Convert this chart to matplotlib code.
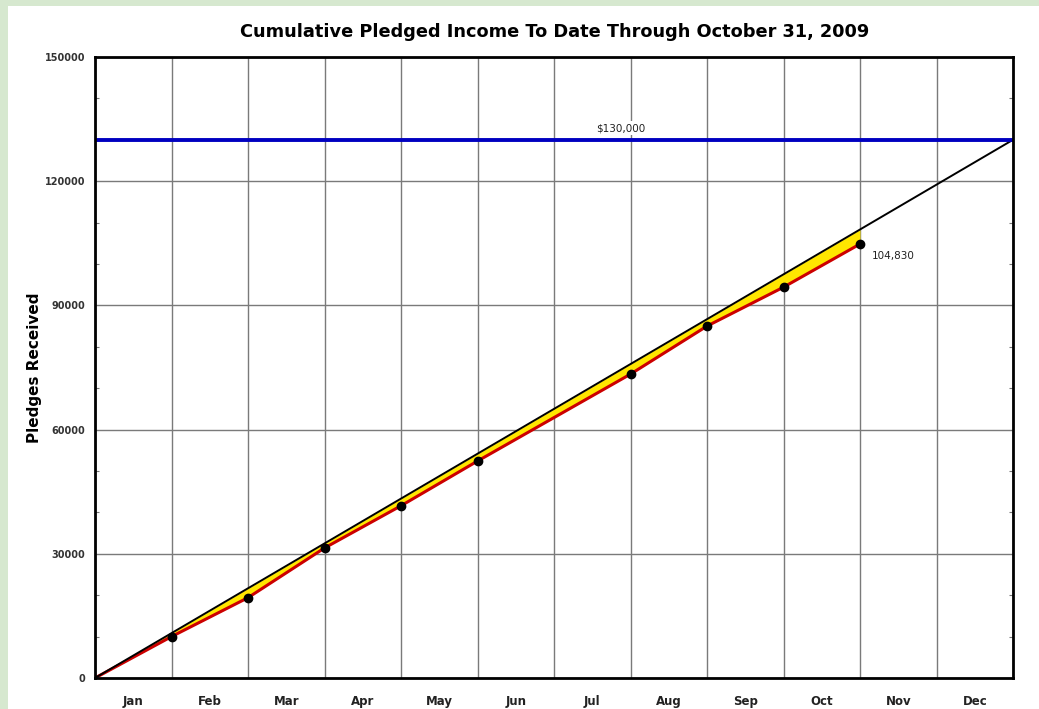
import matplotlib.pyplot as plt
import matplotlib.patches as mpatches
import numpy as np

months = ['Jan', 'Feb', 'Mar', 'Apr', 'May', 'Jun',
          'Jul', 'Aug', 'Sep', 'Oct', 'Nov', 'Dec']

# month-end index and cumulative pledges (no June reading)
pledge_month = [0, 1, 2, 3, 4, 5, 7, 8, 9, 10]
pledge_total = [0, 10000, 19400, 31400, 41600, 52400, 73400, 85000, 94400, 104830]

goal = 130000
goal_month = [0, 12]
goal_line = [0, 130000]

y_ticks = [0, 30000, 60000, 90000, 120000, 150000]

fig = plt.figure(figsize=(10.39, 7.09), dpi=100)
fig.patch.set_facecolor('#d6e8cf')
fig.patches.append(mpatches.Rectangle((8 / 1039, 0), 1, 1 - 6 / 709,
                                      transform=fig.transFigure,
                                      facecolor='white', edgecolor='none',
                                      zorder=-10))

ax = fig.add_axes([95 / 1039, 1 - 678 / 709, 918 / 1039, 621 / 709])
ax.set_facecolor('white')

x = np.array(pledge_month, dtype=float)
y = np.array(pledge_total, dtype=float)
target = np.interp(x, goal_month, goal_line)

ax.fill_between(x, y, target, where=target >= y, interpolate=True,
                color='#ffe600', zorder=3, linewidth=0)
ax.plot(x, y, color='#cc0000', linewidth=2.2, zorder=4)
ax.plot(goal_month, goal_line, color='black', linewidth=1.4, zorder=5)
ax.plot(x[1:], y[1:], 'o', color='black', markersize=6, zorder=6)
ax.axhline(goal, color='#0000c0', linewidth=2.8, zorder=5)

ax.text(6.87, goal + 1600, '$130,000', ha='center', va='bottom',
        fontsize=7.5, color='#222222', zorder=6,
        bbox=dict(facecolor='white', edgecolor='none', pad=1.5))
ax.text(10.15, pledge_total[-1] - 3000, '{:,}'.format(pledge_total[-1]),
        ha='left', va='center', fontsize=7.5, color='#222222', zorder=6)

ax.set_xlim(0, 12)
ax.set_ylim(0, 150000)

ax.set_xticks(range(13))
ax.set_xticks(np.arange(12) + 0.5, minor=True)
ax.set_xticklabels([])
ax.set_xticklabels(months, minor=True, fontsize=8.5, fontweight='bold',
                   color='#222222')
ax.tick_params(axis='x', which='both', length=0)
ax.tick_params(axis='x', which='minor', pad=12)

ax.set_yticks(y_ticks)
ax.set_yticklabels([str(v) for v in y_ticks], fontsize=7,
                   fontweight='bold', color='#333333')
ax.set_yticks(np.arange(0, 150001, 10000), minor=True)
ax.tick_params(axis='y', which='major', length=0, pad=7)
ax.tick_params(axis='y', which='minor', direction='in', length=3,
               width=0.8, color='#777777', left=True, right=True)

ax.grid(True, which='major', color='#7a7a7a', linewidth=1.0, zorder=1)
ax.set_axisbelow(True)
for s in ax.spines.values():
    s.set_linewidth(2)
    s.set_color('black')
    s.set_zorder(7)

ax.set_ylabel('Pledges Received', fontsize=11, fontweight='bold', labelpad=2)
fig.text(555 / 1039, 1 - 32 / 709,
         'Cumulative Pledged Income To Date Through October 31, 2009',
         ha='center', va='center', fontsize=12.8, fontweight='bold')

fig.savefig('out.png', dpi=100, facecolor=fig.get_facecolor())
